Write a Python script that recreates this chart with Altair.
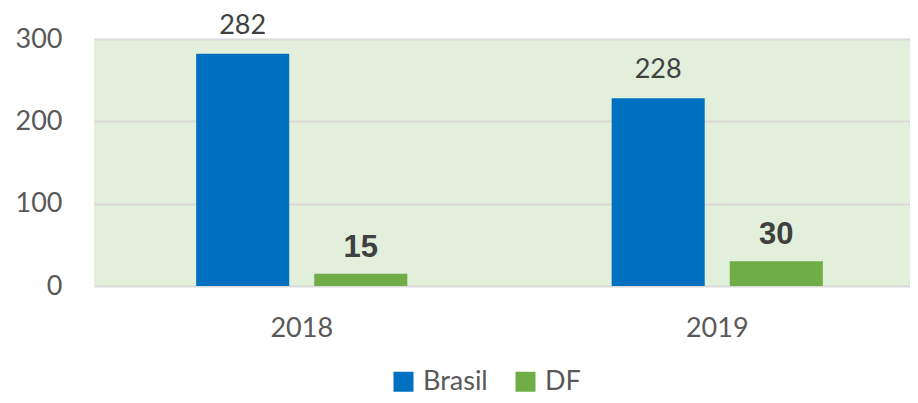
import altair as alt
import pandas as pd

years = ["2018", "2018", "2019", "2019"]
series = ["Brasil", "DF", "Brasil", "DF"]
values = [282, 15, 228, 30]

df = pd.DataFrame({"ano": years, "serie": series, "valor": values})

x_enc = alt.X("ano:N", title=None,
              scale=alt.Scale(paddingInner=0, paddingOuter=0, range=[0, 831]),
              axis=alt.Axis(labelAngle=0, labelFont="Lato", labelFontSize=27,
                            labelColor="#595959", ticks=False, domain=False,
                            labelPadding=29, grid=False))
xo_enc = alt.XOffset("serie:N", scale=alt.Scale(domain=["Brasil", "DF"],
                                                 paddingInner=0.212, paddingOuter=0.865))
y_enc = alt.Y("valor:Q", title=None,
              scale=alt.Scale(domain=[0, 300], nice=False),
              axis=alt.Axis(values=[0, 100, 200, 300], labelFont="Lato", labelFontSize=27,
                            labelColor="#595959", ticks=False, domain=False,
                            labelPadding=32, gridColor="#d9d9d9", gridWidth=2))

base = alt.Chart(df)

bars = base.mark_bar().encode(
    x=x_enc, xOffset=xo_enc, y=y_enc,
    color=alt.Color("serie:N", title=None,
                    scale=alt.Scale(domain=["Brasil", "DF"], range=["#0070c0", "#70ad47"]),
                    legend=alt.Legend(orient="none", legendX=296, legendY=329,
                                      direction="horizontal", symbolType="square",
                                      symbolSize=400, symbolStrokeWidth=0,
                                      labelFont="Lato", labelFontSize=27,
                                      labelColor="#595959", columnPadding=24,
                                      labelOffset=6))
)

txt_brasil = base.transform_filter(alt.datum.serie == "Brasil").mark_text(
    font="Lato", fontSize=27, color="#404040", baseline="alphabetic", dy=-20
).encode(x=x_enc, xOffset=xo_enc, y=y_enc, text="valor:Q")

txt_df = base.transform_filter(alt.datum.serie == "DF").mark_text(
    font="Liberation Sans", fontSize=31, fontWeight="bold", color="#404040",
    baseline="alphabetic", dy=-17
).encode(x=x_enc, xOffset=xo_enc, y=y_enc, text="valor:Q")

chart = alt.layer(bars, txt_brasil, txt_df).properties(
    width=816, height=247,
    autosize=alt.AutoSizeParams(type="none"),
    padding={"left": 86, "top": 31, "right": 0, "bottom": 109},
    background="white",
).configure_view(fill="#e2efda", stroke=None)

chart.save("out.html", embed_options={"renderer": "svg", "actions": False})
